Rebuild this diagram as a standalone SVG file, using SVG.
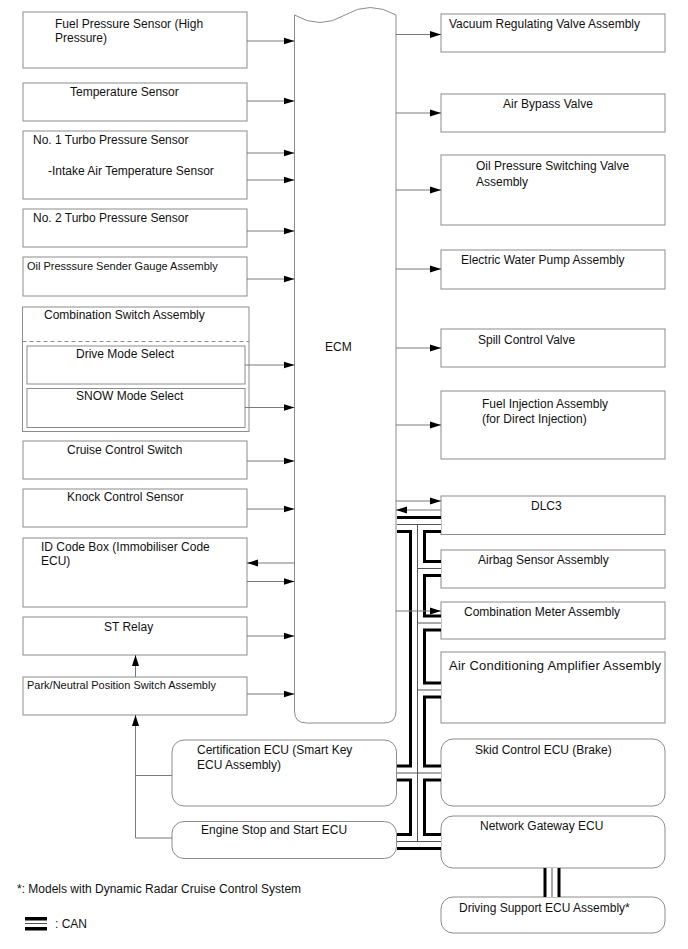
<svg xmlns="http://www.w3.org/2000/svg" xmlns:xlink="http://www.w3.org/1999/xlink" width="688" height="949" viewBox="0 0 688 949">
<style>
.box{fill:#fff;stroke:#8c8c8c;stroke-width:1}
.t{font-family:"Liberation Sans",Arial,sans-serif;font-size:12px;fill:#111}
.s{font-size:11px}
.ln{fill:none;stroke:#7a7a7a;stroke-width:1}
.arr{marker-end:url(#ah)}
.cb{fill:none;stroke:#000;stroke-width:17}
.cw{fill:none;stroke:#fff;stroke-width:11}
.cc{fill:none;stroke:#555;stroke-width:1}
</style>
<defs>
<marker id="ah" markerUnits="userSpaceOnUse" markerWidth="11" markerHeight="8" refX="11" refY="4" orient="auto">
<path d="M0,0.5 L11,4 L0,7.5 z" fill="#000"/>
</marker>
<path id="can" d="M397,524.5 H441 M417.5,524.5 V841.5 M417.5,568.5 H441 M417.5,623 H441 M417.5,690 H441 M397,773 H441 M397,841.5 H441 M552,868 V897"/>
</defs>
<rect width="688" height="949" fill="#fff"/>

<g id="ecm">
<path class="box" d="M294.5,15 Q320,30 345,15 Q370,0 396,15 V711 Q396,723 384,723 H306.5 Q294.5,723 294.5,711 Z"/>
<text class="t" x="325" y="351">ECM</text>
</g>

<g id="fuel-pressure-sensor"><rect class="box" x="23" y="12" width="224" height="56"/><text class="t" x="55" y="28">Fuel Pressure Sensor (High</text><text class="t" x="55" y="42">Pressure)</text></g>
<g id="temperature-sensor"><rect class="box" x="23" y="83" width="224" height="38"/><text class="t" x="70" y="96">Temperature Sensor</text></g>
<g id="turbo1"><rect class="box" x="23" y="131" width="224" height="68"/><text class="t" x="33" y="144">No. 1 Turbo Pressure Sensor</text><text class="t" x="48" y="175">-Intake Air Temperature Sensor</text></g>
<g id="turbo2"><rect class="box" x="23" y="209" width="224" height="38"/><text class="t" x="33" y="222">No. 2 Turbo Pressure Sensor</text></g>
<g id="oil-sender"><rect class="box" x="23" y="257" width="224" height="39"/><text class="t s" x="27" y="270">Oil Presssure Sender Gauge Assembly</text></g>
<g id="combination-switch">
<rect class="box" x="22.5" y="307" width="226.5" height="124.5"/>
<line x1="22.5" y1="341.5" x2="249" y2="341.5" stroke="#8c8c8c" stroke-dasharray="4,3"/>
<text class="t" x="44" y="319">Combination Switch Assembly</text>
</g>
<g id="drive-mode"><rect class="box" x="27" y="346" width="218" height="38"/><text class="t" x="76" y="358">Drive Mode Select</text></g>
<g id="snow-mode"><rect class="box" x="27" y="388.5" width="218" height="39"/><text class="t" x="76" y="400">SNOW Mode Select</text></g>
<g id="cruise"><rect class="box" x="23" y="441" width="224" height="38"/><text class="t" x="67" y="454">Cruise Control Switch</text></g>
<g id="knock"><rect class="box" x="23" y="489" width="224" height="38"/><text class="t" x="67" y="501">Knock Control Sensor</text></g>
<g id="id-code-box"><rect class="box" x="23" y="538" width="224" height="69"/><text class="t" x="41" y="551">ID Code Box (Immobiliser Code</text><text class="t" x="41" y="565">ECU)</text></g>
<g id="st-relay"><rect class="box" x="23" y="617" width="224" height="38"/><text class="t" x="104" y="631">ST Relay</text></g>
<g id="park-neutral"><rect class="box" x="23" y="677" width="224" height="38"/><text class="t s" x="27" y="689">Park/Neutral Position Switch Assembly</text></g>
<g id="certification-ecu"><rect class="box" x="172" y="740" width="224.5" height="66" rx="12"/><text class="t" x="197" y="754">Certification ECU (Smart Key</text><text class="t" x="197" y="769">ECU Assembly)</text></g>
<g id="engine-stop-start"><rect class="box" x="172" y="821.5" width="224.5" height="37" rx="12"/><text class="t" x="201" y="834">Engine Stop and Start ECU</text></g>

<g id="vacuum"><rect class="box" x="441" y="14" width="224" height="38"/><text class="t" x="449" y="28">Vacuum Regulating Valve Assembly</text></g>
<g id="air-bypass"><rect class="box" x="441" y="94" width="224" height="38"/><text class="t" x="503" y="108">Air Bypass Valve</text></g>
<g id="oil-psv"><rect class="box" x="441" y="155" width="224" height="70"/><text class="t" x="476" y="170">Oil Pressure Switching Valve</text><text class="t" x="476" y="186">Assembly</text></g>
<g id="water-pump"><rect class="box" x="441" y="250" width="224" height="39"/><text class="t" x="461" y="264">Electric Water Pump Assembly</text></g>
<g id="spill"><rect class="box" x="441" y="329" width="224" height="38"/><text class="t" x="478" y="344">Spill Control Valve</text></g>
<g id="fuel-injection"><rect class="box" x="441" y="391" width="224" height="68"/><text class="t" x="482" y="408">Fuel Injection Assembly</text><text class="t" x="482" y="423">(for Direct Injection)</text></g>
<g id="dlc3"><rect class="box" x="441" y="496" width="224" height="38.5"/><text class="t" x="531" y="510">DLC3</text></g>
<g id="airbag"><rect class="box" x="441" y="550" width="224" height="38"/><text class="t" x="478" y="564">Airbag Sensor Assembly</text></g>
<g id="meter"><rect class="box" x="441" y="602" width="224" height="37"/><text class="t" x="464" y="616">Combination Meter Assembly</text></g>
<g id="ac-amp"><rect class="box" x="441" y="652" width="224" height="71"/><text class="t" x="449" y="670" style="font-size:13px" textLength="212" lengthAdjust="spacing">Air Conditioning Amplifier Assembly</text></g>
<g id="skid"><rect class="box" x="441" y="739" width="224" height="67" rx="12"/><text class="t" x="475" y="754">Skid Control ECU (Brake)</text></g>
<g id="gateway"><rect class="box" x="441" y="816" width="224" height="52" rx="12"/><text class="t" x="480" y="830">Network Gateway ECU</text></g>
<g id="driving-support"><rect class="box" x="441" y="897" width="224" height="36" rx="12"/><text class="t" x="459" y="912">Driving Support ECU Assembly*</text></g>

<g id="can-bus">
<use xlink:href="#can" class="cb"/>
<use xlink:href="#can" class="cw"/>
<use xlink:href="#can" class="cc"/>
</g>

<g id="connectors">
<path class="ln arr" d="M247,41 H294.5"/>
<path class="ln arr" d="M247,101 H294.5"/>
<path class="ln arr" d="M247,153 H294.5"/>
<path class="ln arr" d="M247,180 H294.5"/>
<path class="ln arr" d="M247,231 H294.5"/>
<path class="ln arr" d="M247,279 H294.5"/>
<path class="ln arr" d="M245,365 H294.5"/>
<path class="ln arr" d="M245,407.5 H294.5"/>
<path class="ln arr" d="M247,461 H294.5"/>
<path class="ln arr" d="M247,509 H294.5"/>
<path class="ln arr" d="M294.5,563 H247"/>
<path class="ln arr" d="M247,581.5 H294.5"/>
<path class="ln arr" d="M247,636 H294.5"/>
<path class="ln arr" d="M247,694 H294.5"/>
<path class="ln arr" d="M135.5,677 V655"/>
<path class="ln arr" d="M172,838 H135.5 V715"/>
<path class="ln" d="M172,775.5 H135.5"/>
<path class="ln arr" d="M396,34.5 H441"/>
<path class="ln arr" d="M396,113 H441"/>
<path class="ln arr" d="M396,190 H441"/>
<path class="ln arr" d="M396,269 H441"/>
<path class="ln arr" d="M396,348 H441"/>
<path class="ln arr" d="M396,425 H441"/>
<path class="ln arr" d="M396,501 H441"/>
<path class="ln arr" d="M441,510 H396"/>
<path class="ln arr" d="M396,611 H441"/>
</g>

<g id="legend">
<text class="t" x="17" y="893">*: Models with Dynamic Radar Cruise Control System</text>
<rect x="25" y="917" width="22" height="3.5" fill="#000"/>
<line x1="25" y1="923.5" x2="47" y2="923.5" stroke="#555" stroke-width="1"/>
<rect x="25" y="927" width="22" height="3.5" fill="#000"/>
<text class="t" x="55" y="928">: CAN</text>
</g>
</svg>
